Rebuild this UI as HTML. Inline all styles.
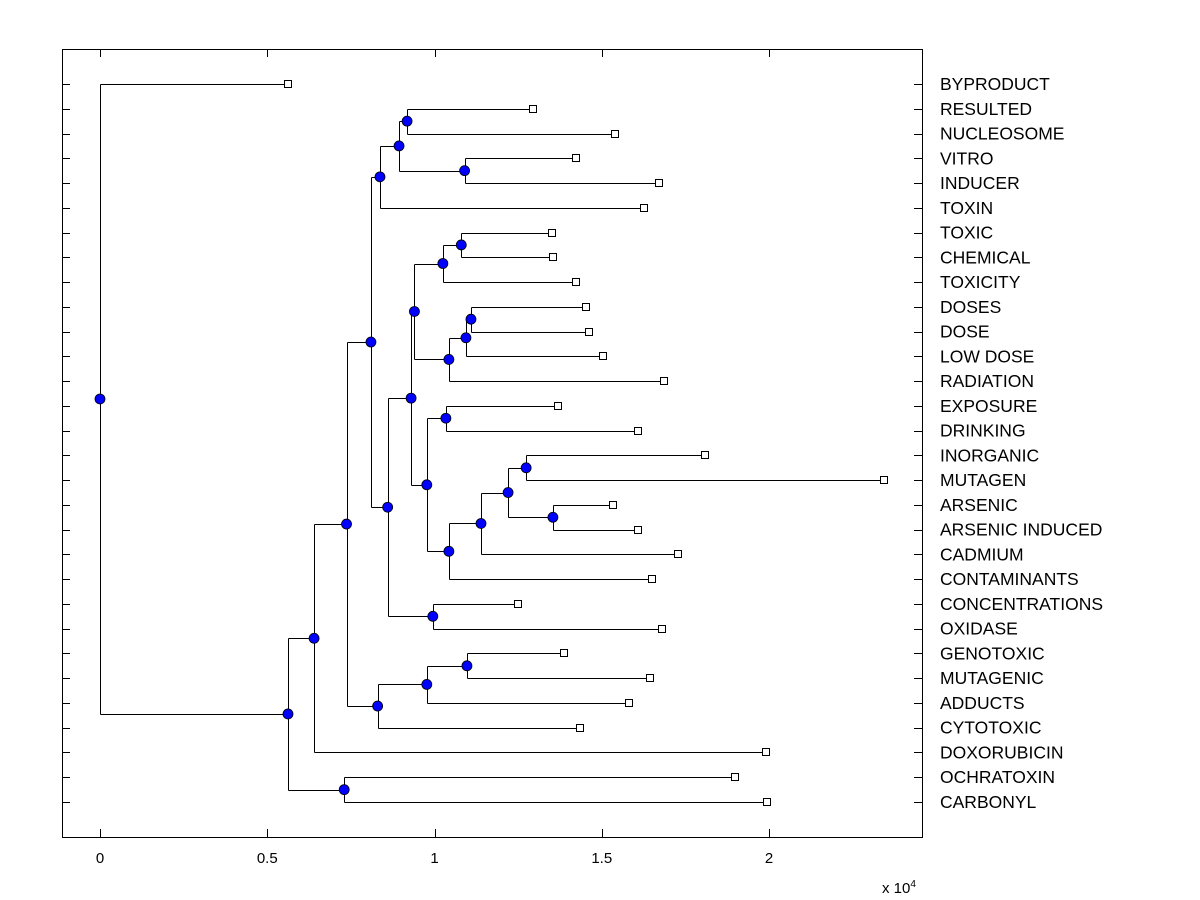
<!DOCTYPE html>
<html><head><meta charset="utf-8"><style>
html,body{margin:0;padding:0;background:#fff;}
svg{display:block;font-family:"Liberation Sans",Arial,sans-serif;}
</style></head><body>
<svg id="chart" width="1200" height="900" viewBox="0 0 1200 900">
<rect x="62.5" y="49.5" width="860" height="788" fill="#fff" stroke="#000" stroke-width="1"/>
<g id="g"></g>
</svg>
<script>
const leafLabels = ["BYPRODUCT","RESULTED","NUCLEOSOME","VITRO","INDUCER","TOXIN","TOXIC","CHEMICAL","TOXICITY","DOSES","DOSE","LOW DOSE","RADIATION","EXPOSURE","DRINKING","INORGANIC","MUTAGEN","ARSENIC","ARSENIC INDUCED","CADMIUM","CONTAMINANTS","CONCENTRATIONS","OXIDASE","GENOTOXIC","MUTAGENIC","ADDUCTS","CYTOTOXIC","DOXORUBICIN","OCHRATOXIN","CARBONYL"];
const leafValues = [0.562,1.294,1.539,1.423,1.671,1.626,1.351,1.354,1.423,1.453,1.462,1.504,1.686,1.369,1.608,1.809,2.344,1.533,1.608,1.728,1.650,1.250,1.680,1.387,1.644,1.581,1.435,1.990,1.898,1.994];
const mergeLeft  = [1,3,30,32,6,34,9,36,37,35,13,15,17,41,43,44,40,39,21,47,33,23,51,52,50,54,28,55,0];
const mergeRight = [2,4,31,5,7,8,10,11,12,38,14,16,18,42,19,20,45,46,22,48,49,24,25,26,53,27,29,56,57];
const mergeHeight= [0.918,1.090,0.894,0.837,1.080,1.025,1.109,1.094,1.043,0.940,1.034,1.274,1.354,1.220,1.139,1.043,0.977,0.930,0.995,0.860,0.810,1.097,0.977,0.830,0.737,0.640,0.730,0.562,0];
const xTicks = [0,0.5,1,1.5,2];
const xTickLabels = ["0","0.5","1","1.5","2"];

const NS="http://www.w3.org/2000/svg";
const g=document.getElementById('g');
const xS=v=>100+v*334.5;
const yS=i=>84+i*(802-84)/(leafLabels.length-1);
function mk(t,a){const e=document.createElementNS(NS,t);for(const k in a)e.setAttribute(k,a[k]);g.appendChild(e);return e;}
const n=leafLabels.length;
const nx=[],ny=[];
leafLabels.forEach((l,i)=>{nx[i]=xS(leafValues[i]);ny[i]=yS(i);});
const lines=[],dots=[];
mergeHeight.forEach((h,k)=>{
  const id=n+k,a=mergeLeft[k],b=mergeRight[k];
  nx[id]=xS(h);ny[id]=(ny[a]+ny[b])/2;
  lines.push([nx[id],ny[a],nx[id],ny[b]]);
  lines.push([nx[id],ny[a],nx[a],ny[a]]);
  lines.push([nx[id],ny[b],nx[b],ny[b]]);
  dots.push(id);
});
lines.forEach(L=>{
  const e=mk('line',{x1:Math.round(L[0])+0.5,y1:Math.round(L[1])+0.5,x2:Math.round(L[2])+0.5,y2:Math.round(L[3])+0.5,stroke:'#000','stroke-width':1});
  
  
});
leafLabels.forEach((l,i)=>{
  const y=Math.round(yS(i))+0.5;
  const t1=mk('line',{x1:62,y1:y,x2:70,y2:y,stroke:'#000'});
  
  
  const t2=mk('line',{x1:914,y1:y,x2:922,y2:y,stroke:'#000'});
  
  
  const tx=mk('text',{x:940,y:yS(i)+6,'font-size':17.5});
  tx.textContent=l;
  
  
  const s=mk('rect',{x:Math.round(nx[i])-3.5,y:Math.round(yS(i))-3.5,width:7,height:7,fill:'#fff',stroke:'#000'});
  
  
});
dots.forEach(id=>{
  const c=mk('circle',{cx:nx[id],cy:ny[id],r:5,fill:'#0000ff',stroke:'#000','stroke-width':0.8});
  
  
});
xTicks.forEach((v,i)=>{
  const x=Math.round(xS(v))+0.5;
  const a=mk('line',{x1:x,y1:837,x2:x,y2:829,stroke:'#000'});
  
  
  const b=mk('line',{x1:x,y1:49,x2:x,y2:57,stroke:'#000'});
  
  
  const t=mk('text',{x:xS(v),y:863,'font-size':15,'text-anchor':'middle'});
  t.textContent=xTickLabels[i];
  
  
});
const ex=mk('text',{x:882,y:893,'font-size':15});
ex.innerHTML='x 10<tspan dy="-6" font-size="10">4</tspan>';


</script>
</body></html>
